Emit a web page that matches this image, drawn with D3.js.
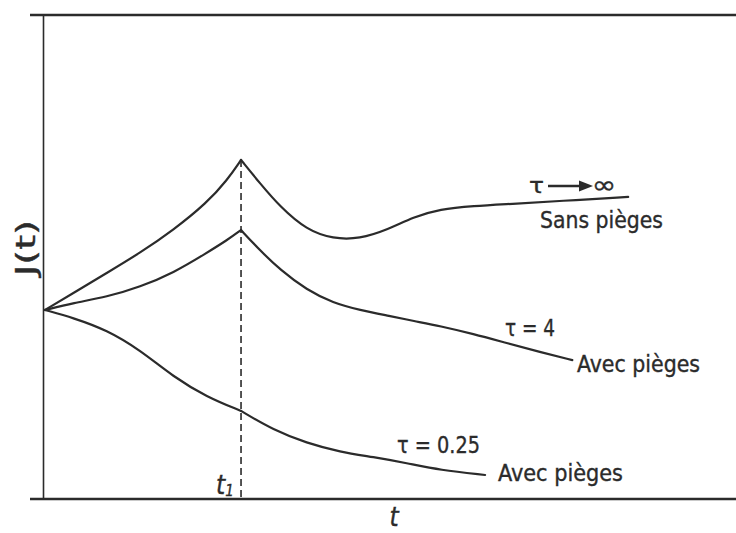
<!DOCTYPE html>
<html>
<head>
<meta charset="utf-8">
<script src="https://cdn.jsdelivr.net/npm/d3@7"></script>
<style>
  html, body { margin: 0; padding: 0; background: #fff; }
  svg { display: block; }
  text { font-family: "DejaVu Sans Condensed", "DejaVu Sans", sans-serif; fill: #2b2b2b; stroke: #2b2b2b; stroke-width: 0.35px; }
</style>
</head>
<body>
<svg id="chart" width="736" height="533"></svg>
<script>
// Current density J(t) after a step at t1, for different trapping times tau.
const t1 = 2.0;

// tau -> infinity (no traps)
const tNoTrap = [0, 0.29, 0.63, 0.97, 1.31, 1.65, 1.86, 2.0, 2.19, 2.4, 2.67, 2.94, 3.21, 3.49, 3.76, 4.03, 4.37, 4.75, 5.26, 5.95];
const jNoTrap = [1.0, 1.09, 1.196, 1.302, 1.423, 1.566, 1.688, 1.794, 1.672, 1.545, 1.423, 1.376, 1.376, 1.423, 1.492, 1.534, 1.55, 1.561, 1.577, 1.598];

// tau = 4 (with traps)
const tTau4 = [0, 0.29, 0.63, 0.97, 1.31, 1.65, 1.86, 2.0, 2.19, 2.4, 2.67, 2.94, 3.21, 3.52, 3.76, 4.03, 4.37, 4.71, 5.05, 5.38];
const jTau4 = [1.0, 1.037, 1.069, 1.122, 1.196, 1.302, 1.37, 1.423, 1.317, 1.212, 1.106, 1.037, 1.0, 0.968, 0.942, 0.915, 0.873, 0.825, 0.778, 0.735];

// tau = 0.25 (with traps)
const tTau025 = [0, 0.29, 0.63, 0.97, 1.31, 1.65, 2.0, 2.33, 2.67, 3.01, 3.35, 3.69, 4.03, 4.49];
const jTau025 = [1.0, 0.958, 0.894, 0.788, 0.646, 0.54, 0.466, 0.365, 0.296, 0.249, 0.222, 0.19, 0.153, 0.127];

const seriesList = [
  { t: tNoTrap, j: jNoTrap },
  { t: tTau4, j: jTau4 },
  { t: tTau025, j: jTau025 }
];

const svg = d3.select("#chart");
const ink = "#2b2b2b";

const x = d3.scaleLinear().domain([0, 7.05]).range([45, 736]);
const y = d3.scaleLinear().domain([0, 2.566]).range([499, 14]);

// Frame: left axis, top border, bottom axis
svg.append("line").attr("x1", 43.5).attr("x2", 43.5).attr("y1", 14).attr("y2", 499)
  .attr("stroke", ink).attr("stroke-width", 1.6);
svg.append("line").attr("x1", 30).attr("x2", 736).attr("y1", 15).attr("y2", 15)
  .attr("stroke", ink).attr("stroke-width", 2.6);
svg.append("line").attr("x1", 30).attr("x2", 736).attr("y1", 499).attr("y2", 499)
  .attr("stroke", ink).attr("stroke-width", 2.4);

// Dashed marker at t1
svg.append("line")
  .attr("x1", x(t1)).attr("x2", x(t1))
  .attr("y1", y(d3.max(jNoTrap))).attr("y2", 499)
  .attr("stroke", ink).attr("stroke-width", 1.6)
  .attr("stroke-dasharray", "7,4");

// Curves: each drawn as two smooth pieces meeting at t1 (cusp)
const line = d3.line()
  .x(d => x(d[0])).y(d => y(d[1]))
  .curve(d3.curveBasis);

seriesList.forEach(s => {
  const pts = s.t.map((tv, i) => [tv, s.j[i]]);
  const before = pts.filter(p => p[0] <= t1);
  const after = pts.filter(p => p[0] >= t1);
  [before, after].forEach(seg => {
    svg.append("path")
      .attr("d", line(seg))
      .attr("fill", "none")
      .attr("stroke", ink)
      .attr("stroke-width", 2.2)
      .attr("stroke-linejoin", "round")
      .attr("stroke-linecap", "round");
  });
});

// Curve labels
function label(txt, px, py, size, width) {
  const t = svg.append("text")
    .attr("x", px).attr("y", py)
    .attr("font-size", size)
    .text(txt);
  if (width) t.attr("textLength", width).attr("lengthAdjust", "spacingAndGlyphs");
  return t;
}

label("τ", 529, 193, 22, 15);
svg.append("line").attr("x1", 548).attr("x2", 582).attr("y1", 186).attr("y2", 186)
  .attr("stroke", ink).attr("stroke-width", 2.4);
svg.append("path").attr("d", "M579,180.5 L593,186 L579,191.5 Z").attr("fill", ink);
label("∞", 592, 193, 24, 24);
label("Sans pièges", 540, 228, 23, 123);

label("τ = 4", 505, 336, 23, 50);
label("Avec pièges", 577, 372, 23, 123);

label("τ = 0.25", 397, 453, 23, 83);
label("Avec pièges", 498, 481, 23, 125);

// Axis labels
const t1Label = svg.append("text").attr("x", 216).attr("y", 494)
  .attr("font-size", 26).attr("font-style", "italic");
t1Label.append("tspan").text("t");
t1Label.append("tspan").attr("font-size", 15).attr("dy", 2).text("1");

svg.append("text").attr("x", 394).attr("y", 526)
  .attr("text-anchor", "middle").attr("font-size", 26).attr("font-style", "italic")
  .text("t");

svg.append("text")
  .attr("transform", "translate(35,248) rotate(-90)")
  .attr("text-anchor", "middle").attr("font-size", 26)
  .attr("textLength", 56).attr("lengthAdjust", "spacingAndGlyphs")
  .text("J(t)");
</script>
</body>
</html>
